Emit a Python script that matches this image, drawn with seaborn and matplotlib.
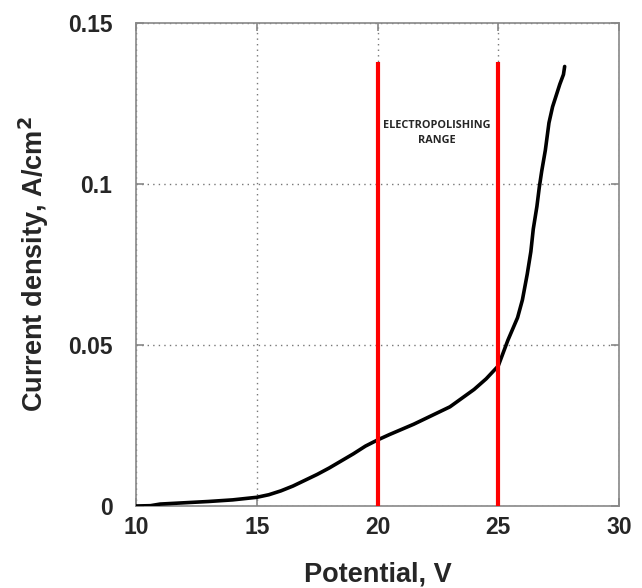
import matplotlib
matplotlib.use("Agg")
import matplotlib.pyplot as plt
import seaborn as sns
import pandas as pd

potential = [10.0, 10.6, 11.0, 12.0, 13.0, 14.0, 15.0, 15.5, 16.0, 16.5, 17.0, 17.5, 18.0, 18.5,
             19.0, 19.5, 20.0, 20.5, 21.0, 21.5, 22.0, 22.5, 23.0, 23.5, 24.0, 24.5, 25.0,
             25.2, 25.4, 25.6, 25.8, 26.0, 26.2, 26.35, 26.45, 26.6, 26.7, 26.8, 26.95,
             27.1, 27.25, 27.4, 27.55, 27.7, 27.75]
current = [0.0, 0.0001, 0.0006, 0.0010, 0.0014, 0.0019, 0.0027, 0.0035, 0.0047, 0.0062, 0.0080,
           0.0098, 0.0118, 0.0140, 0.0162, 0.0186, 0.0205, 0.0222, 0.0238, 0.0254, 0.0272,
           0.0290, 0.0308, 0.0335, 0.0362, 0.0395, 0.0435, 0.0475, 0.0515, 0.0550, 0.0585,
           0.0640, 0.0720, 0.0790, 0.0860, 0.0930, 0.0990, 0.1040, 0.1105, 0.1190, 0.1240,
           0.1275, 0.1310, 0.1340, 0.1365]

range_bounds = [20, 25]
range_top = 0.138
range_label = "ELECTROPOLISHING\nRANGE"
xticks = [10, 15, 20, 25, 30]
yticks = [0, 0.05, 0.1, 0.15]
ytick_labels = ["0", "0.05", "0.1", "0.15"]

sns.set_style("white")
plt.rcParams['font.family'] = ['Liberation Sans', 'DejaVu Sans']

fig = plt.figure(figsize=(6.42, 5.88), dpi=100)
ax = fig.add_axes([136/642, 1-506/588, (619-136)/642, (506-23)/588])

df = pd.DataFrame({"Potential": potential, "Current": current})
sns.lineplot(data=df, x="Potential", y="Current", ax=ax, color="black", linewidth=2.6,
             zorder=3)

for xb in range_bounds:
    ax.vlines(xb, 0, range_top, color="#ff0000", linewidth=3, zorder=4)

ax.text(22.45, 0.1159, range_label, ha="center", va="center", fontsize=7.8,
        fontweight="bold", family=["Open Sans", "DejaVu Sans"], linespacing=1.45)

ax.set_xlim(10, 30)
ax.set_ylim(0, 0.15)
ax.set_xticks(xticks)
ax.set_xticklabels([str(t) for t in xticks], fontsize=16.5, fontweight="bold")
ax.set_yticks(yticks)
ax.set_yticklabels(ytick_labels, fontsize=16.5, fontweight="bold")
ax.tick_params(axis="both", direction="in", length=6, color="#888888", width=1.2)
ax.tick_params(axis="x", pad=7)
ax.tick_params(axis="y", pad=17)
ax.yaxis.set_ticks_position("both")
ax.xaxis.set_ticks_position("both")

ax.grid(True, linestyle=(0, (1, 3)), color="#777777", linewidth=1)
for spine in ax.spines.values():
    spine.set_color("#888888")
    spine.set_linewidth(1.2)

ax.set_xlabel("Potential, V", fontsize=19.5, fontweight="bold")
ax.set_ylabel("Current density, A/cm$^\\mathbf{2}$", fontsize=19.5, fontweight="bold")
ax.xaxis.set_label_coords(0.5, -0.114)
ax.yaxis.set_label_coords(-0.176, 0.5)

fig.savefig("out.png", dpi=100)
